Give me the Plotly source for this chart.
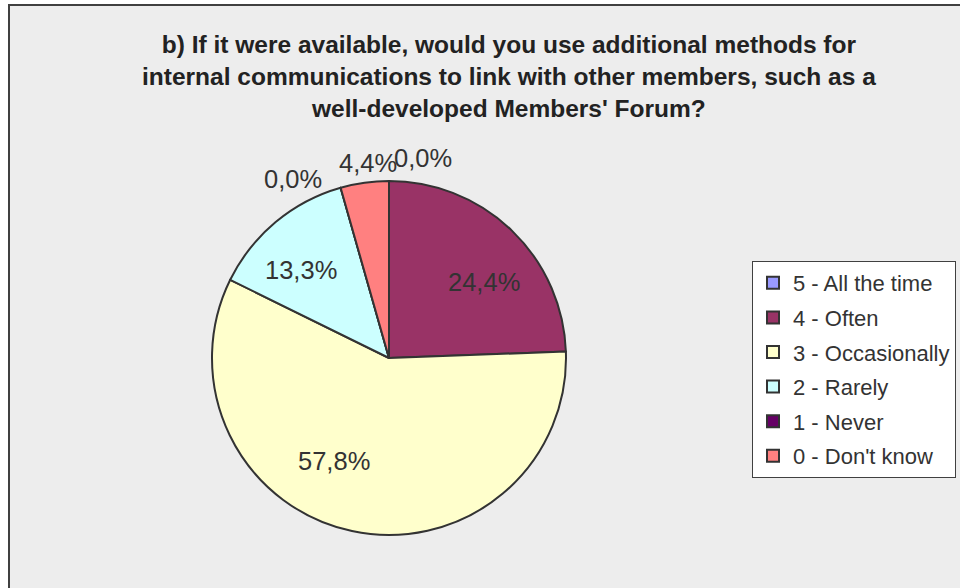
import math
import plotly.graph_objects as go

# Survey answers and share of respondents (%)
categories = ["5 - All the time", "4 - Often", "3 - Occasionally",
              "2 - Rarely", "1 - Never", "0 - Don't know"]
shares = [0.0, 24.4, 57.8, 13.3, 0.0, 4.4]
colors = ["#9999FF", "#993366", "#FFFFCC", "#CCFFFF", "#660066", "#FF8080"]

title_lines = [
    "b) If it were available, would you use additional methods for",
    "internal communications to link with other members, such as a",
    "well-developed Members' Forum?",
]

W, H = 960, 588
FONT = "Liberation Sans, Arial, sans-serif"
TEXT = "#333333"
EDGE = "#333333"

# Pie placement in pixels
CX, CY, R = 389, 358, 177
# Pixel nudges for the value labels (keeps them clear of each other)
label_nudge = [(34, -3), (11, 11), (-30, -15), (-11, 4), (-42, 11), (6, 0)]

fig = go.Figure()

fig.add_trace(go.Pie(
    labels=categories,
    values=shares,
    textinfo="none",
    sort=False,
    direction="clockwise",
    rotation=0,
    marker=dict(colors=colors, line=dict(color=EDGE, width=2)),
    domain=dict(x=[(CX - R) / W, (CX + R) / W],
                y=[1 - (CY + R) / H, 1 - (CY - R) / H]),
    showlegend=False,
    automargin=False,
    hoverinfo="label+percent",
))

# Value labels placed along each slice's bisector
total = sum(shares)
cum = 0.0
for v, (nx, ny) in zip(shares, label_nudge):
    theta = 2 * math.pi * (cum + v / 2) / total
    cum += v
    r = 0.68 * R if v >= 10 else R + 20
    px = CX + r * math.sin(theta) + nx
    py = CY - r * math.cos(theta) + ny
    fig.add_annotation(
        text=f"{v:.1f}".replace(".", ",") + "%",
        x=px / W, y=1 - py / H, xref="paper", yref="paper",
        xanchor="center", yanchor="middle", showarrow=False,
        font=dict(family=FONT, size=25.5, color=TEXT),
    )

# Legend entries, one per answer
for i, (name, col) in enumerate(zip(categories, colors)):
    fig.add_trace(go.Scatter(
        x=[None], y=[None], mode="markers", name=name,
        legendgroup=f"g{i}",
        marker=dict(symbol="square", size=12, color=col,
                    line=dict(color=EDGE, width=2)),
        hoverinfo="skip",
    ))

fig.add_annotation(
    text="<br>".join(title_lines),
    x=509 / W, y=1 - 29 / H, xref="paper", yref="paper",
    xanchor="center", yanchor="top", showarrow=False,
    font=dict(family=FONT, size=24.5, color="#222222", weight="bold"),
    align="center",
)

fig.update_layout(
    width=W, height=H,
    margin=dict(l=0, r=0, t=0, b=0),
    paper_bgcolor="white",
    plot_bgcolor="rgba(0,0,0,0)",
    xaxis=dict(visible=False),
    yaxis=dict(visible=False),
    shapes=[dict(type="rect", xref="paper", yref="paper",
                 x0=9 / W, x1=1.02, y0=-0.02, y1=1 - 5 / H,
                 fillcolor="#EDEDED", line=dict(color="#404040", width=2),
                 layer="below")],
    legend=dict(
        x=752 / W, y=1 - 261 / H, xanchor="left", yanchor="top",
        bgcolor="white", bordercolor="#404040", borderwidth=1,
        font=dict(family=FONT, size=22, color=TEXT),
        traceorder="grouped", tracegroupgap=3,
        itemclick=False, itemdoubleclick=False,
    ),
)

fig.write_html("out.html")
